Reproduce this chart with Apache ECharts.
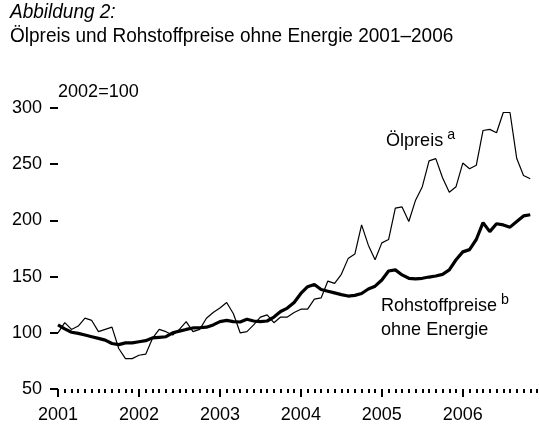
<!DOCTYPE html>
<html>
<head>
<meta charset="utf-8">
<script src="https://cdn.jsdelivr.net/npm/echarts@6/dist/echarts.min.js"></script>
<style>html,body{margin:0;padding:0;background:#fff}#c{width:539px;height:424px}</style>
</head>
<body>
<div id="c"></div>
<script>
const years = ['2001','2002','2003','2004','2005','2006'];
const months = ['01','02','03','04','05','06','07','08','09','10','11','12'];
const yTicks = [50, 100, 150, 200, 250, 300];
// Ölpreis (2002=100), monthly Jan 2001 – Nov 2006
const oil = [100,109,103,106,113,111,101,103,105,86,77,77,
             80,81,95,103,101,98,103,110,101,103,113,118,
             122,127,117,100,101,107,114,116,109,114,114,118,
             121,121,130,131,146,144,152,166,170,196,178,165,
             180,183,211,212,199,218,230,253,255,238,225,230,
             251,246,249,280,281,278,296,296,255,240,237];
// Rohstoffpreise ohne Energie (2002=100)
const commod = [107,103.5,100.5,99.5,98,96.5,95,93.5,90.5,89.5,91,91,
                92,93,95.5,96,96.5,100,101.5,103,104.3,104.5,105,107,
                110,111,110,109.6,112,110.5,110,110.5,114,119,122,127,
                135,141,143,138.5,137,135.5,134,132.7,133.3,135,139,141.5,
                147,155,156,151.5,148.5,148,148.5,149.6,150.5,152,156,165,
                172,174,183,198,190,197,196,194,199,204,205];

const categories = [];
years.forEach(y => months.forEach(m => categories.push(y + '-' + m)));

const FONT = '"Liberation Sans", Arial, sans-serif';
const chart = echarts.init(document.getElementById('c'), null, {renderer: 'canvas'});
const isYear = (idx) => idx % 12 === 0;
const SX = 0.95;

chart.setOption({
  animation: false,
  backgroundColor: '#fff',
  textStyle: {fontFamily: FONT, color: '#000'},
  grid: {left: 58, top: 108, width: 479, height: 281, containLabel: false},
  xAxis: [
    {
      type: 'category', data: categories, boundaryGap: false, position: 'bottom',
      axisLine: {show: false},
      axisTick: {show: true, interval: 0, length: 4, lineStyle: {color: '#000', width: 2}},
      axisLabel: {show: false},
      splitLine: {show: false}
    },
    {
      type: 'category', data: categories, boundaryGap: false, position: 'bottom',
      axisLine: {show: false},
      axisTick: {show: true, interval: isYear, length: 8, lineStyle: {color: '#000', width: 2}},
      axisLabel: {
        show: true, interval: isYear, margin: 17,
        formatter: (v) => v.slice(0, 4),
        fontSize: 18, color: '#000', fontFamily: FONT
      },
      splitLine: {show: false}
    }
  ],
  yAxis: {
    type: 'value', min: 50, max: 300, interval: 50,
    axisLine: {show: false},
    axisTick: {show: true, length: 8, lineStyle: {color: '#000', width: 2}},
    axisLabel: {margin: 16, fontSize: 18, color: '#000', fontFamily: FONT,
      formatter: (v) => yTicks.includes(v) ? String(v) : ''},
    splitLine: {show: false}
  },
  series: [
    {name: 'Ölpreis', type: 'line', data: oil, xAxisIndex: 0, showSymbol: false,
      lineStyle: {color: '#000', width: 1.2}, z: 2},
    {name: 'Rohstoffpreise ohne Energie', type: 'line', data: commod, xAxisIndex: 0, showSymbol: false,
      lineStyle: {color: '#000', width: 3.2}, z: 3}
  ],
  graphic: [
    {type: 'text', x: 10, y: 2, scaleX: SX, style: {text: 'Abbildung 2:', font: 'italic 20px ' + FONT, fill: '#000'}},
    {type: 'text', x: 10, y: 26, scaleX: SX, style: {text: 'Ölpreis und Rohstoffpreise ohne Energie 2001–2006', font: '20px ' + FONT, fill: '#000'}},
    {type: 'text', x: 58, y: 82, scaleX: SX, style: {text: '2002=100', font: '19px ' + FONT, fill: '#000'}},
    {type: 'text', x: 386, y: 127, scaleX: SX, style: {
      text: '{m|Ölpreis}{s| a}',
      rich: {m: {font: '19px ' + FONT, fill: '#000', verticalAlign: 'bottom'},
             s: {font: '15px ' + FONT, fill: '#000', verticalAlign: 'top', padding: [0,0,8,0]}}}},
    {type: 'text', x: 381, y: 292, scaleX: SX, style: {
      text: '{m|Rohstoffpreise}{s| b}',
      rich: {m: {font: '19px ' + FONT, fill: '#000', verticalAlign: 'bottom'},
             s: {font: '15px ' + FONT, fill: '#000', verticalAlign: 'top', padding: [0,0,8,0]}}}},
    {type: 'text', x: 381, y: 320, scaleX: SX, style: {text: 'ohne Energie', font: '19px ' + FONT, fill: '#000'}}
  ]
});
</script>
</body>
</html>
